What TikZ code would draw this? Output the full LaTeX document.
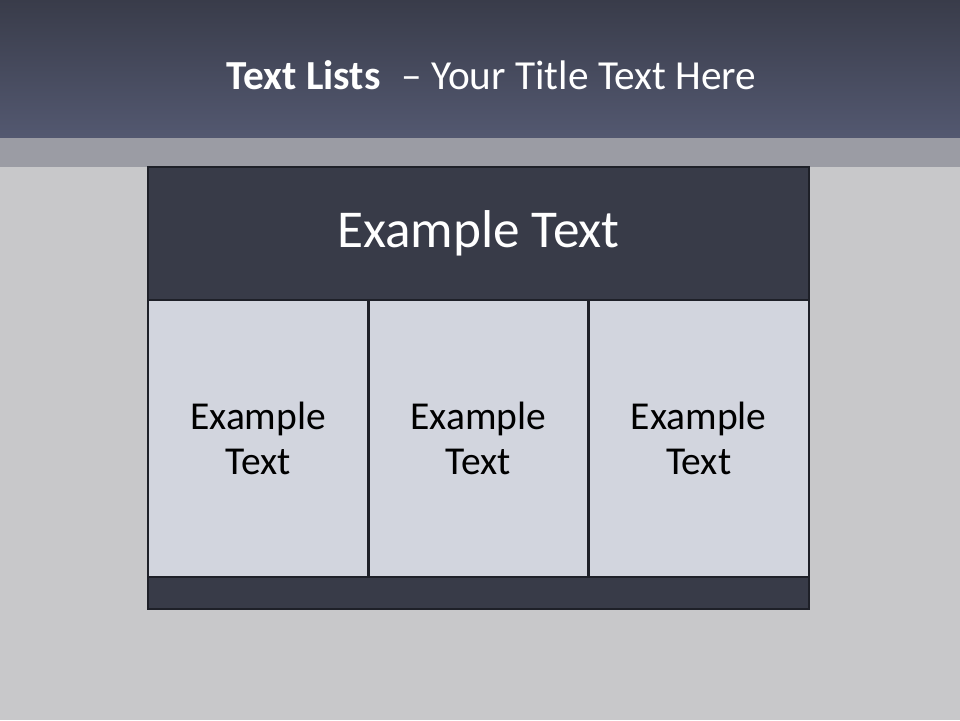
\documentclass[tikz,border=0pt]{standalone}
\usepackage{fontspec}
\setmainfont{Carlito}
\usetikzlibrary{positioning}
\definecolor{barTop}{HTML}{393C4A}
\definecolor{barBot}{HTML}{535870}
\definecolor{bandGray}{HTML}{9B9CA4}
\definecolor{pageGray}{HTML}{C8C8CA}
\definecolor{darkFill}{HTML}{383B48}
\definecolor{cellFill}{HTML}{D2D5DE}
\definecolor{rimColor}{HTML}{1E2028}

\begin{document}
\begin{tikzpicture}[
        x=0.02cm, y=-0.02cm,
        node distance=0pt,
        every node/.style={outer sep=0pt},
        hdr/.style={draw=rimColor, line width=1.6pt, fill=darkFill, minimum width=13.22cm, minimum height=2.66cm, text=white, font=\fontsize{30.3}{36}\selectfont, inner sep=0pt},
        cell/.style={draw=rimColor, line width=1.6pt, fill=cellFill, minimum width=4.4067cm, minimum height=5.54cm, align=center, text=black, font=\fontsize{22.5}{25.5}\selectfont, inner sep=0pt},
        foot/.style={draw=rimColor, line width=1.6pt, fill=darkFill, minimum width=13.22cm, minimum height=0.64cm, inner sep=0pt}
    ]
        % page and title bar
        \fill[pageGray] (0,0) rectangle (960,720);
        \fill[bandGray] (0,137) rectangle (960,167);
        \shade[top color=barTop, bottom color=barBot] (0,0) rectangle (960,137);
        \node[text=white, font=\fontsize{23.5}{28}\selectfont] (title) at (491.5,75) {\textbf{Text Lists}\enspace– Your Title Text Here};

        % table
        \node[hdr] (header) at (478.5,233.5) {Example Text};
        \node[cell, below right=of header.south west] (cellA) {Example\\Text};
        \node[cell, right=of cellA] (cellB) {Example\\Text};
        \node[cell, right=of cellB] (cellC) {Example\\Text};
        \node[foot, below right=of cellA.south west] (footer) {};
\end{tikzpicture}
\end{document}
